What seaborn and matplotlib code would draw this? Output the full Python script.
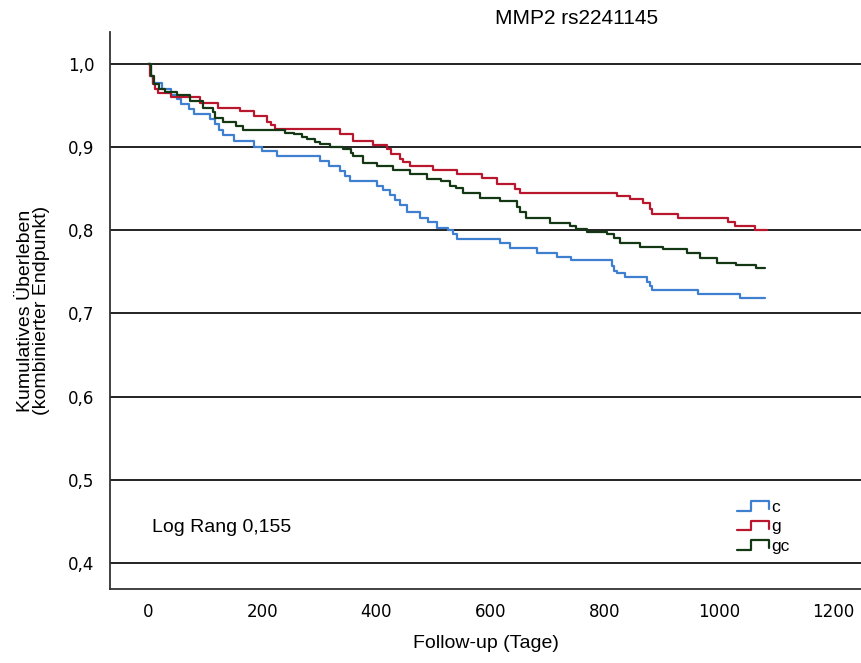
import numpy as np
import pandas as pd
import matplotlib
matplotlib.use("Agg")
import matplotlib.pyplot as plt
import seaborn as sns
from matplotlib.lines import Line2D
from matplotlib.legend_handler import HandlerBase
from matplotlib.ticker import FuncFormatter

# Kaplan-Meier step points (Tage, kumulatives Ueberleben)
c_days = [0, 5, 8, 25, 40, 50, 58, 72, 80, 108, 118, 124, 132, 150, 185, 200, 226,
          301, 318, 337, 346, 354, 401, 412, 424, 432, 441, 454, 476, 490, 506, 525,
          535, 541, 617, 634, 681, 716, 742, 813, 816, 821, 836, 874, 879, 883, 964,
          1037, 1081]
c_surv = [1.0, 0.985, 0.977, 0.97, 0.962, 0.957, 0.951, 0.945, 0.939, 0.933, 0.927,
          0.92, 0.914, 0.907, 0.9, 0.895, 0.889, 0.883, 0.877, 0.871, 0.865, 0.859,
          0.853, 0.848, 0.842, 0.836, 0.83, 0.822, 0.815, 0.81, 0.803, 0.8, 0.795,
          0.789, 0.784, 0.778, 0.773, 0.768, 0.764, 0.757, 0.751, 0.748, 0.744, 0.738,
          0.733, 0.728, 0.723, 0.718, 0.718]

g_days = [0, 4, 8, 12, 18, 40, 91, 123, 161, 185, 209, 216, 222, 336, 359, 394, 418,
          426, 441, 447, 459, 499, 541, 585, 611, 643, 652, 821, 844, 867, 879, 883,
          929, 1016, 1028, 1063, 1084]
g_surv = [1.0, 0.985, 0.975, 0.97, 0.965, 0.96, 0.953, 0.947, 0.943, 0.937, 0.93,
          0.926, 0.921, 0.916, 0.907, 0.902, 0.897, 0.891, 0.885, 0.882, 0.877, 0.872,
          0.867, 0.863, 0.855, 0.85, 0.845, 0.841, 0.837, 0.833, 0.826, 0.819, 0.815,
          0.81, 0.805, 0.8, 0.8]

gc_days = [0, 5, 10, 20, 30, 50, 74, 97, 114, 117, 131, 155, 167, 240, 255, 270, 278,
           292, 301, 319, 342, 355, 360, 377, 401, 430, 459, 488, 514, 529, 540, 552,
           582, 617, 646, 652, 663, 704, 739, 750, 769, 804, 816, 827, 862, 902, 944,
           967, 997, 1031, 1066, 1081]
gc_surv = [1.0, 0.985, 0.975, 0.97, 0.966, 0.962, 0.955, 0.947, 0.942, 0.935, 0.93,
           0.925, 0.92, 0.917, 0.915, 0.912, 0.909, 0.906, 0.903, 0.9, 0.897, 0.893,
           0.889, 0.881, 0.877, 0.872, 0.867, 0.862, 0.859, 0.853, 0.851, 0.845, 0.839,
           0.835, 0.828, 0.822, 0.815, 0.809, 0.805, 0.801, 0.798, 0.795, 0.79, 0.785,
           0.78, 0.777, 0.772, 0.766, 0.761, 0.758, 0.754, 0.754]

groups = ["c", "g", "gc"]
colors = {"c": "#3f7fd0", "g": "#b8172d", "gc": "#143814"}

df = pd.concat([
    pd.DataFrame({"days": c_days, "surv": c_surv, "group": "c"}),
    pd.DataFrame({"days": g_days, "surv": g_surv, "group": "g"}),
    pd.DataFrame({"days": gc_days, "surv": gc_surv, "group": "gc"}),
], ignore_index=True)

sns.set_style("white")
plt.rcParams["font.family"] = ["Liberation Sans", "DejaVu Sans"]
plt.rcParams["text.color"] = "black"
plt.rcParams["axes.labelcolor"] = "black"


# step-shaped legend icon like in SPSS
class StepHandler(HandlerBase):
    def create_artists(self, legend, orig_handle, xdescent, ydescent,
                       width, height, fontsize, trans):
        x0 = -xdescent
        y0 = -ydescent
        xs = [x0, x0 + 0.45 * width, x0 + 0.45 * width, x0 + width, x0 + width]
        ys = [y0 + 0.1 * height, y0 + 0.1 * height, y0 + 0.85 * height,
              y0 + 0.85 * height, y0 + 0.2 * height]
        line = Line2D(xs, ys, color=orig_handle.get_color(), lw=1.6,
                      transform=trans)
        return [line]


fig = plt.figure(figsize=(8.62, 6.63), dpi=100)
ax = fig.add_axes([0.1276, 0.1116, 0.8724, 0.8401])

sns.lineplot(data=df, x="days", y="surv", hue="group", palette=colors,
             estimator=None, drawstyle="steps-post", lw=1.6, legend=False,
             ax=ax, zorder=3)

ax.set_xlim(-66.6, 1251)
ax.set_ylim(0.369, 1.038)
ax.set_xticks(range(0, 1201, 200))
ax.set_yticks(np.arange(0.4, 1.01, 0.1))
ax.yaxis.set_major_formatter(FuncFormatter(lambda v, p: f"{v:.1f}".replace(".", ",")))
ax.tick_params(axis="both", length=0, labelsize=12, colors="black")
for lab in ax.get_xticklabels() + ax.get_yticklabels():
    lab.set_fontfamily("DejaVu Sans")
ax.tick_params(axis="x", pad=10)
ax.tick_params(axis="y", pad=11)

ax.yaxis.grid(True, color="#111111", lw=1.3, zorder=1)
ax.xaxis.grid(False)
for s in ["top", "right"]:
    ax.spines[s].set_visible(False)
for s in ["left", "bottom"]:
    ax.spines[s].set_color("#333333")
    ax.spines[s].set_linewidth(1.3)

ax.set_xlabel("Follow-up (Tage)", fontsize=14, labelpad=10)
ax.set_ylabel("Kumulatives Überleben\n(kombinierter Endpunkt)", fontsize=14,
              labelpad=13, linespacing=0.95)

fig.text(0.669, 0.972, "MMP2 rs2241145", fontsize=15, ha="center", va="center")
ax.text(0.056, 0.111, "Log Rang 0,155", fontsize=14, transform=ax.transAxes,
        ha="left", va="center")

handles = [Line2D([], [], color=colors[k]) for k in groups]
ax.legend(handles, groups, handler_map={Line2D: StepHandler()},
          loc="upper left", bbox_to_anchor=(0.825, 0.173), frameon=False,
          fontsize=12.5, handlelength=1.8, handletextpad=0.15, labelspacing=0.25,
          borderaxespad=0)

fig.savefig("out.png", dpi=100)
